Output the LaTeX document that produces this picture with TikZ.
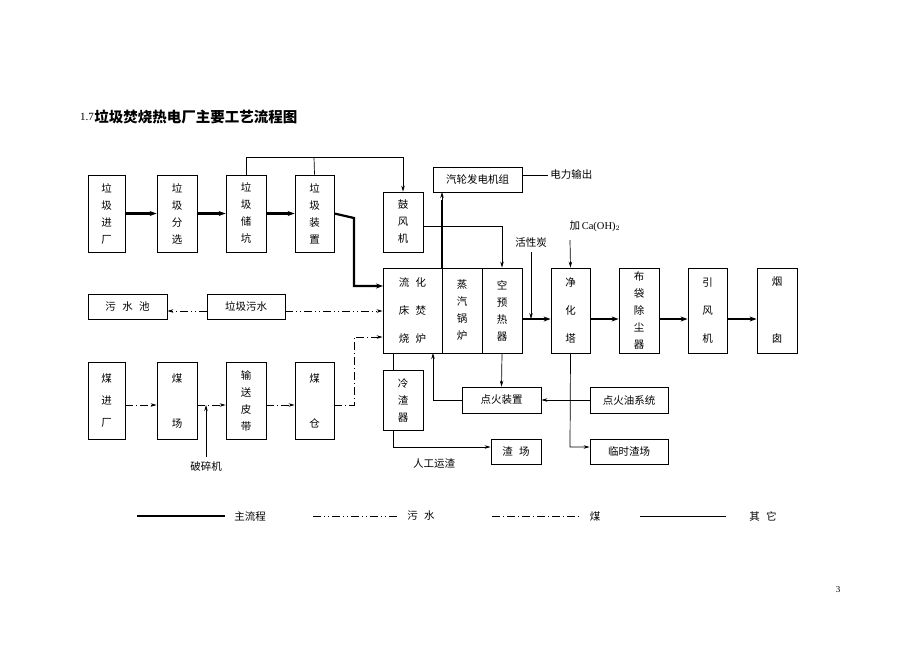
\documentclass[tikz,border=0pt]{standalone}
\usepackage{fontspec}
\newfontfamily\cjk{Noto Sans CJK SC}
\setmainfont{Liberation Serif}
\usetikzlibrary{arrows.meta}
\newcommand\gapx{\kern0.6em}
\begin{document}
\begin{tikzpicture}[x=1pt,y=-1pt,
  every node/.style={font=\cjk\fontsize{10.5}{17}\selectfont},
  bx/.style={draw,line width=0.8pt,inner sep=0pt,align=center},
  main/.style={line width=2.2pt,-{Stealth[length=7pt,width=5pt]}},
  thin/.style={line width=0.7pt},
  tarr/.style={line width=0.7pt,-{Stealth[length=6pt,width=3.5pt]}},
  sew/.style={line width=0.8pt,dash pattern=on 8pt off 3pt on 1pt off 3pt on 1pt off 3pt},
  coal/.style={line width=0.8pt,dash pattern=on 8pt off 3pt on 1pt off 3pt}]
\useasboundingbox (0,0) rectangle (920,651);
\newcommand\bxat[6]{\node[bx,minimum width=#3-#1,minimum height=#4-#2] (#5) at ({(#1+#3)/2},{(#2+#4)/2}) {#6};}
% title
\node[anchor=west,inner sep=0pt,font=\rmfamily\fontsize{11}{12}\selectfont] (t1) at (80,117) {1.7};
\node[anchor=west,inner sep=0pt,font=\cjk\bfseries\fontsize{14.5}{16}\selectfont] (t2) at (t1.east) {垃圾焚烧热电厂主要工艺流程图};
% top row
\bxat{88}{175}{125}{252}{a1}{垃\\圾\\进\\厂}
\bxat{157}{175}{197}{252}{a2}{垃\\圾\\分\\选}
\bxat{226}{175}{266}{252}{a3}{垃\\圾\\储\\坑}
\bxat{295}{175}{334}{252}{a4}{垃\\圾\\装\\置}
\bxat{383}{192}{423}{252}{fan}{鼓\\风\\机}
\bxat{433}{167}{522}{192}{gen}{汽轮发电机组}
% furnace block
\bxat{383}{268}{442}{353}{fur}{流\gapx 化\\[11pt]床\gapx 焚\\[11pt]烧\gapx 炉}
\bxat{442}{268}{482}{353}{boil}{蒸\\汽\\锅\\炉}
\bxat{482}{268}{522}{353}{aph}{空\\预\\热\\器}
% sewage row
\bxat{88}{294}{167}{319}{pool}{污\gapx 水\gapx 池}
\bxat{207}{294}{285}{319}{sw}{垃圾污水}
% coal row
\bxat{88}{362}{125}{439}{c1}{煤\\[5pt]进\\[5pt]厂}
\bxat{157}{362}{197}{439}{c2}{煤\\[28pt]场}
\bxat{226}{362}{266}{439}{c3}{输\\送\\皮\\带}
\bxat{295}{362}{334}{439}{c4}{煤\\[28pt]仓}
\bxat{383}{370}{423}{430}{cool}{冷\\渣\\器}
\bxat{462}{387}{541}{413}{ign}{点火装置}
\bxat{590}{387}{668}{413}{oil}{点火油系统}
\bxat{491}{439}{541}{464}{slag}{渣\gapx 场}
\bxat{590}{439}{668}{464}{tslag}{临时渣场}
% right row
\bxat{551}{268}{590}{353}{tow}{净\\[11pt]化\\[11pt]塔}
\bxat{619}{268}{659}{353}{bag}{\fontsize{10.5}{13}\selectfont 布\\袋\\除\\尘\\器}
\bxat{688}{268}{727}{353}{idf}{引\\[11pt]风\\[11pt]机}
\bxat{757}{268}{797}{353}{chim}{烟\\[40pt]囱}
% main flow
\draw[main] (a1.east) -- (a2.west);
\draw[main] (a2.east) -- (a3.west);
\draw[main] (a3.east) -- (a4.west);
\draw[main] (a4.east) -- (354,218) -- (354,286) -- (383,286);
\draw[line width=2.2pt] (442,268) -- (442,200);
\draw[tarr] (442,200) -- (442,192);
\draw[main] (aph.east |- 0,319) -- (tow.west |- 0,319);
\draw[main] (tow.east |- 0,319) -- (bag.west |- 0,319);
\draw[main] (bag.east |- 0,319) -- (idf.west |- 0,319);
\draw[main] (idf.east |- 0,319) -- (chim.west |- 0,319);
% others
\draw[tarr] (a3.north) -- (246,157) -- (403,157) -- (fan.north);
\draw[thin] (a4.north) -- (314,157);
\draw[tarr] (fan.east |- 0,226) -- (502,226) -- (aph.north);
\draw[thin] (gen.east |- 0,175) -- (548,175) node[anchor=west,inner sep=2pt] (pw) {电力输出};
\node (ac) at (531,243) {活性炭};
\draw[tarr] (531,252) -- (531,319);
\node[anchor=west] (ca) at (566,226) {加\,\rmfamily Ca(OH)$_2$};
\draw[tarr] (570,240) -- (tow.north);
\draw[tarr] (aph.south) -- (ign.north);
\draw[tarr] (ign.west) -- (433,400) -- (433,353);
\draw[tarr] (oil.west) -- (ign.east);
\draw[thin] (393,353) -- (393,370);
\draw[tarr] (393,430) -- (393,447) -- (slag.west |- 0,447);
\node (rg) at (434,464) {人工运渣};
\draw[tarr] (tow.south) -- (570,447) -- (tslag.west |- 0,447);
% sewage
\draw[sew,-{Stealth[length=6pt,width=3.5pt]}] (sw.east |- 0,311) -- (fur.west |- 0,311);
\draw[sew,-{Stealth[length=6pt,width=3.5pt]}] (sw.west |- 0,311) -- (pool.east |- 0,311);
% coal
\draw[coal,-{Stealth[length=6pt,width=3.5pt]}] (c1.east |- 0,405) -- (c2.west |- 0,405);
\draw[coal,-{Stealth[length=6pt,width=3.5pt]}] (c2.east |- 0,405) -- (c3.west |- 0,405);
\draw[coal,-{Stealth[length=6pt,width=3.5pt]}] (c3.east |- 0,405) -- (c4.west |- 0,405);
\draw[coal,-{Stealth[length=6pt,width=3.5pt]}] (c4.east |- 0,405) -- (354,405) -- (354,337) -- (fur.west |- 0,337);
\node (cr) at (206,466) {破碎机};
\draw[tarr] (206,457) -- (206,405);
% legend
\coordinate (l1a) at (137,516); \coordinate (l1b) at (225,516);
\coordinate (l2a) at (313,516); \coordinate (l2b) at (398,516);
\coordinate (l3a) at (492,516); \coordinate (l3b) at (581,516);
\coordinate (l4a) at (640,516); \coordinate (l4b) at (726,516);
\draw[line width=2.2pt] (l1a) -- (l1b);
\draw[sew] (l2a) -- (l2b);
\draw[coal] (l3a) -- (l3b);
\draw[thin] (l4a) -- (l4b);
\node (lg1) at (250,516) {主流程};
\node (lg2) at (421,516) {污\gapx 水};
\node (lg3) at (595,516) {煤};
\node (lg4) at (763,516) {其\gapx 它};
\node[font=\rmfamily\fontsize{9}{10}\selectfont] (pg) at (838,590) {3};
\end{tikzpicture}
\end{document}
